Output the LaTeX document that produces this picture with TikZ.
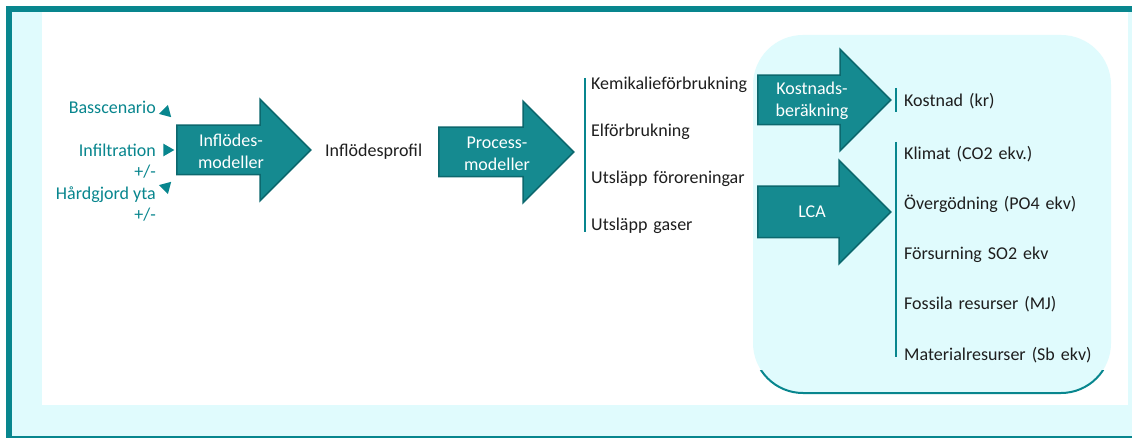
\documentclass[tikz,border=0pt]{standalone}
\usepackage{fontspec}
\setmainfont{Carlito}
\usepackage{tikz}
\usetikzlibrary{positioning,shapes.arrows,shapes.geometric}

\definecolor{tealfill}{RGB}{21,138,144}
\definecolor{tealdark}{RGB}{12,104,110}
\definecolor{tealframe}{RGB}{8,134,142}
\definecolor{cyanlt}{RGB}{224,251,253}
\definecolor{textgray}{RGB}{30,30,30}

\tikzset{
  bigarrow/.style={single arrow, fill=tealfill, draw=tealdark, line width=1.5pt,
    inner xsep=0pt, inner ysep=24pt, single arrow head extend=26pt,
    minimum height=134pt, anchor=tail},
  arrowtext/.style={text=white, align=center, font=\fontsize{18}{22}\selectfont},
  intext/.style={text=tealframe, align=right, anchor=east, inner sep=0pt,
    font=\fontsize{18}{21.5}\selectfont},
  item/.style={text=textgray, text width=200pt, align=left, inner sep=0pt,
    text height=13pt, text depth=4pt, font=\fontsize{18}{22}\selectfont},
  tri/.style={isosceles triangle, isosceles triangle apex angle=60,
    shape border uses incircle, fill=tealframe, inner sep=0pt, minimum height=11pt},
  bar/.style={tealframe, line width=1.2pt}
}

\begin{document}
\begin{tikzpicture}[x=1pt,y=-1pt]
  \useasboundingbox (0,0) rectangle (1132,438);
  % frame
  \fill[cyanlt] (12,12) rectangle (1132,437);
  \fill[white] (42,12) rectangle (1128,405);
  \fill[tealframe] (6,6) rectangle (1132,12);
  \fill[tealframe] (6,6) rectangle (12,437);
  \draw[tealframe, line width=1.5pt] (6,437) -- (1132,437);

  % rounded box
  \fill[cyanlt, rounded corners=50pt] (753,35) rectangle (1111,393);
  \begin{scope}
    \clip (740,370) rectangle (1125,400);
    \draw[tealframe, line width=2pt, rounded corners=50pt] (753,35) rectangle (1111,393);
  \end{scope}

  % inputs
  \node[intext] (bas) at (156,107) {Basscenario};
  \node[intext] (inf) at (156,161) {Infiltration\\+/-};
  \node[intext] (hard) at (156,204) {Hårdgjord yta\\+/-};
  \node[tri, shape border rotate=-45] (t1) at (166,112) {};
  \node[tri] (t2) at (167,150) {};
  \node[tri, shape border rotate=45] (t3) at (166,187) {};

  % big arrows
  \node[bigarrow] (inflm) at (176,150) {};
  \node[arrowtext] (inflmt) at (231,151) {Inflödes-\\modeller};
  \node[text=textgray, anchor=west, inner sep=0pt, font=\fontsize{18}{22}\selectfont]
    (prof) at (325,152) {Inflödesprofil};
  \node[bigarrow, minimum height=135pt] (procm) at (438,152) {};
  \node[arrowtext] (procmt) at (497,154) {Process-\\modeller};

  % process results
  \node[item, anchor=west] (kemi) at (591,85) {Kemikalieförbrukning};
  \node[item, below=29.7pt of kemi] (el) {Elförbrukning};
  \node[item, below=29.7pt of el] (forr) {Utsläpp föroreningar};
  \node[item, below=29.7pt of forr] (gas) {Utsläpp gaser};
  \draw[bar] (585,78) -- (585,232);

  \node[bigarrow, minimum height=133pt] (kost) at (757,100) {};
  \node[arrowtext] (kostt) at (812,101) {Kostnads-\\beräkning};
  \node[bigarrow, minimum height=133pt, inner ysep=25pt] (lca) at (757,212) {};
  \node[arrowtext] (lcat) at (812,212) {LCA};

  % outcomes
  \node[item, anchor=west] (kr) at (904,102) {Kostnad (kr)};
  \draw[bar] (896,88) -- (896,112);
  \node[item, anchor=west] (klim) at (904,155) {Klimat (CO2 ekv.)};
  \node[item, below=32.7pt of klim] (over) {Övergödning (PO4 ekv)};
  \node[item, below=32.7pt of over] (fors) {Försurning SO2 ekv};
  \node[item, below=32.7pt of fors] (foss) {Fossila resurser (MJ)};
  \node[item, below=33.7pt of foss] (mat) {Materialresurser (Sb ekv)};
  \draw[bar] (896,142) -- (896,357);
\end{tikzpicture}
\end{document}
